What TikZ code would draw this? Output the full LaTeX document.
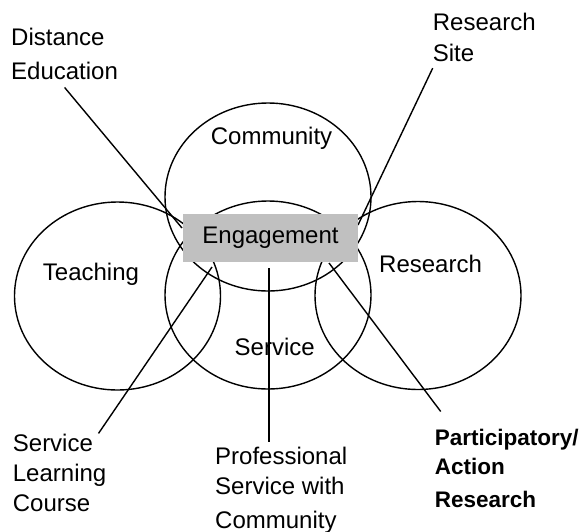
\documentclass[tikz,border=0pt]{standalone}
\usepackage{fontspec}
\setmainfont{Liberation Sans}
\definecolor{engfill}{RGB}{192,192,192}
\tikzset{
  ring/.style={line width=1.4pt},
  lead/.style={line width=1.4pt},
  lab/.style={inner sep=0pt,anchor=base west,align=left},
}

\begin{document}
\begin{tikzpicture}[x=1pt,y=-1pt,font=\fontsize{24}{30}\selectfont]
\useasboundingbox (0,0) rectangle (588,531);
\foreach \cx/\cy in {268/197,117.5/296,268/295,418/295.5}{
    \draw[ring] (\cx,\cy) ellipse [x radius=103,y radius=94];
}
% labels round the picture (placed by their last line)
\node[lab] (dist) at (11,79) {Distance\\[4pt]Education};
\node[lab] (site) at (432.7,61.7) {Research\\[1.7pt]Site};
\node[lab] (slc) at (12.7,511) {Service\\Learning\\Course};
\node[lab] (prof) at (215,528.3) {Professional\\Service with\\[4pt]Community};
\node[lab,font=\fontsize{22.5}{29}\selectfont\bfseries] (par) at (434.7,507.7) {Participatory/\\Action\\[4.7pt]Research};
% free ends next to the box
\coordinate (dEnd) at (182,228);
\coordinate (sEnd) at (358,225);
\coordinate (lEnd) at (212,267);
\coordinate (pEnd) at (269,268);
\coordinate (aEnd) at (329,263);
\draw[lead] ([yshift=-8pt]dist.south) -- (dEnd);
\draw[lead] ([yshift=-6pt]site.south west) -- (sEnd);
\draw[lead] ([xshift=-8pt]slc.north east) -- (lEnd);
\draw[lead,shorten >=5pt] (pEnd) -- (pEnd |- prof.north);
\draw[lead] ([shift={(6pt,17pt)}]par.north west) -- (aEnd);
\node[fill=engfill,minimum width=175pt,minimum height=48pt,inner sep=0pt] (engage) at (270.5,238) {Engagement};
% circle names
\node[lab] (comm) at (210.7,144) {Community};
\node[lab] (teach) at (42.7,280.7) {Teaching};
\node[lab] (res) at (379,272.7) {Research};
\node[lab] (serv) at (234.5,355.7) {Service};
\end{tikzpicture}
\end{document}
